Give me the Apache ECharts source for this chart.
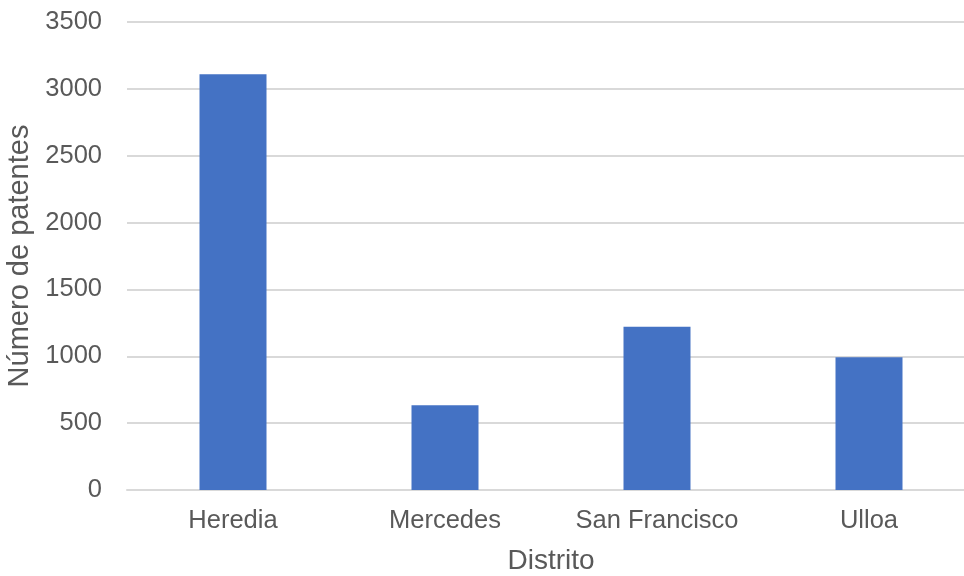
<!DOCTYPE html>
<html>
<head>
<meta charset="utf-8">
<script src="https://cdn.jsdelivr.net/npm/echarts@6/dist/echarts.min.js"></script>
<style>
  html, body { margin: 0; padding: 0; background: #ffffff; }
  #chart { width: 964px; height: 576px; }
</style>
</head>
<body>
<div id="chart"></div>
<script>
// Patent counts per district
const districts = ['Heredia', 'Mercedes', 'San Francisco', 'Ulloa'];
const patentCounts = [3110, 633, 1220, 992];
const yTicks = { min: 0, max: 3500, step: 500 };

const textColor = '#595959';
const fontFamily = '"Liberation Sans", Arial, Helvetica, sans-serif';

const chart = echarts.init(document.getElementById('chart'), null, { renderer: 'canvas' });

chart.setOption({
  animation: false,
  backgroundColor: '#ffffff',
  grid: {
    left: 127, top: 22, right: -11, bottom: 86,
    containLabel: false,
    outerBoundsMode: 'none'
  },
  xAxis: {
    type: 'category',
    data: districts,
    name: 'Distrito',
    nameLocation: 'middle',
    nameGap: 57,
    nameTextStyle: { color: textColor, fontSize: 28, fontFamily: fontFamily },
    axisLine: { show: true, lineStyle: { color: '#d9d9d9', width: 2 } },
    axisTick: { show: false },
    axisLabel: { color: textColor, fontSize: 25.5, fontFamily: fontFamily, margin: 18 }
  },
  yAxis: {
    type: 'value',
    min: yTicks.min,
    max: yTicks.max,
    interval: yTicks.step,
    name: 'Número de patentes',
    nameLocation: 'middle',
    nameGap: 91,
    nameRotate: 90,
    nameTextStyle: { color: textColor, fontSize: 29, fontFamily: fontFamily },
    axisLine: { show: false },
    axisTick: { show: false },
    splitLine: { lineStyle: { color: '#d9d9d9', width: 2 } },
    axisLabel: {
      color: textColor, fontSize: 25.5, fontFamily: fontFamily, margin: 25,
      formatter: function (v) { return String(v); }
    }
  },
  series: [{
    type: 'bar',
    data: patentCounts,
    barWidth: 67,
    itemStyle: { color: '#4472C4' }
  }]
});
</script>
</body>
</html>
